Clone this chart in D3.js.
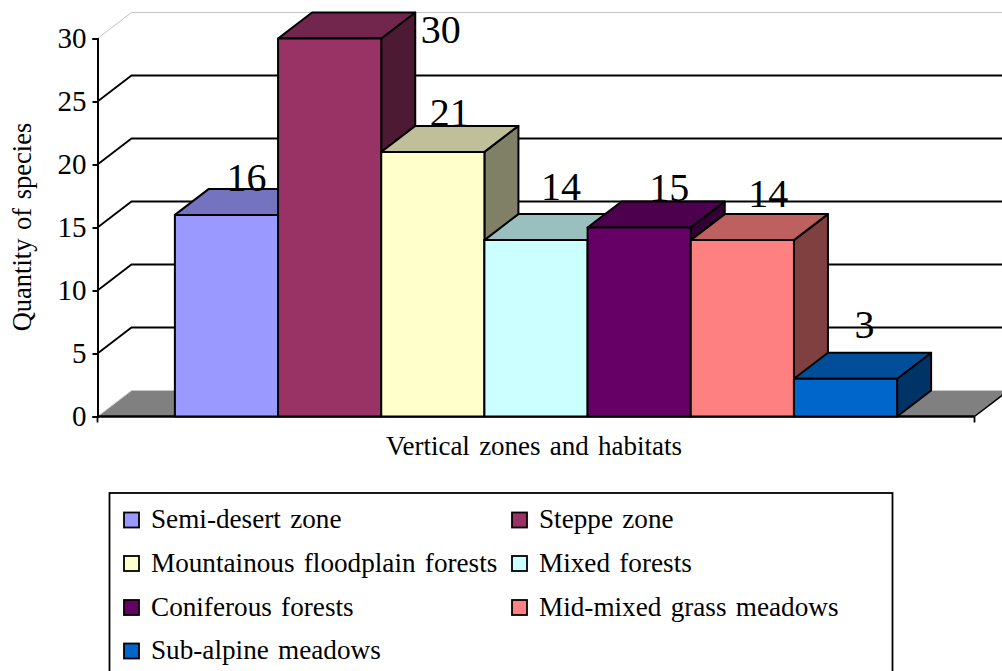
<!DOCTYPE html>
<html><head><meta charset="utf-8">
<script src="https://cdn.jsdelivr.net/npm/d3@7"></script>
<style>html,body{margin:0;padding:0;background:#fff;overflow:hidden}svg{display:block}text{font-family:"Liberation Serif","Times New Roman",serif;fill:#000}</style>
</head><body><div id="chart"></div>
<script>
const categories=["Semi-desert zone","Steppe zone","Mountainous floodplain forests","Mixed forests","Coniferous forests","Mid-mixed grass meadows","Sub-alpine meadows"];
const speciesCounts=[16,30,21,14,15,14,3];
const barColors=["#9999FF","#993366","#FFFFCC","#CCFFFF","#660066","#FF8080","#0066CC"];
const yTicks=[0,5,10,15,20,25,30];
const yTitle="Quantity of species";
const xTitle="Vertical zones and habitats";

const W=1002,H=671;
const svg=d3.select("#chart").append("svg").attr("width",W).attr("height",H).attr("viewBox",[0,0,W,H]);
const x=d3.scaleBand().domain(categories).range([97.5,974.5]).paddingInner(0).paddingOuter(0.75);
const y=d3.scaleLinear().domain([0,30]).range([416.5,38.5]);
const dx=34,dy=-26;
const shade=(c,k)=>{const r=d3.rgb(c);return d3.rgb(r.r*k,r.g*k,r.b*k).formatHex();};
const poly=pts=>pts.map(p=>p.join(",")).join(" ");
const [x0,x1]=x.range();

// floor
svg.append("polygon").attr("points",poly([[x0,y(0)],[x0+dx,y(0)+dy],[x1+dx,y(0)+dy],[x1,y(0)]])).attr("fill","#808080");
svg.append("line").attr("x1",x0+dx).attr("x2",W).attr("y1",y(0)+dy).attr("y2",y(0)+dy).attr("stroke","#c8c8c8").attr("stroke-width",1);
svg.append("line").attr("x1",x0).attr("y1",y(0)).attr("x2",x0+dx).attr("y2",y(0)+dy).attr("stroke","#d8d8d8").attr("stroke-width",1);
svg.append("line").attr("x1",x1).attr("y1",y(0)).attr("x2",x1+dx).attr("y2",y(0)+dy).attr("stroke","#000").attr("stroke-width",1.5);

// gridlines
const grid=svg.append("g").attr("fill","none");
yTicks.filter(t=>t>0).forEach(t=>{
  const col=t===30?"#c4c4c4":"#000";
  grid.append("polyline").attr("points",poly([[x0,y(t)],[x0+dx,y(t)+dy],[W,y(t)+dy]])).attr("stroke",col).attr("stroke-width",t===30?1:1.8);
});

// axes
const yAxis=d3.axisLeft(y).tickValues(yTicks).tickSize(5).tickPadding(6);
const gy=svg.append("g").attr("transform",`translate(${x0},0)`).call(yAxis);
gy.selectAll("path,line").attr("stroke","#000").attr("stroke-width",2);
gy.selectAll("text").style("font-size","29px").style("font-family",'"Liberation Serif",serif').attr("fill","#000");
svg.append("line").attr("x1",x0).attr("x2",x1).attr("y1",y(0)).attr("y2",y(0)).attr("stroke","#000").attr("stroke-width",2.6);
[x0,x1].forEach(v=>svg.append("line").attr("x1",v).attr("x2",v).attr("y1",y(0)).attr("y2",y(0)+6).attr("stroke","#000").attr("stroke-width",1.8));

// bars, painted left to right
const bars=svg.append("g").attr("stroke","#000").attr("stroke-width",2).attr("stroke-linejoin","round");
categories.forEach((c,i)=>{
  const l=x(c),r=l+x.bandwidth(),t=y(speciesCounts[i]),b=y(0),col=barColors[i];
  bars.append("polygon").attr("points",poly([[r,t],[r+dx,t+dy],[r+dx,b+dy],[r,b]])).attr("fill",shade(col,.5));
  bars.append("polygon").attr("points",poly([[l,t],[l+dx,t+dy],[r+dx,t+dy],[r,t]])).attr("fill",shade(col,.75));
  bars.append("rect").attr("x",l).attr("y",t).attr("width",x.bandwidth()).attr("height",b-t).attr("fill",col);
});

// data labels, hand-placed relative to each bar's top as in the reference
const nudgeX=[20,111,17,25,30,26,19],nudgeY=[-24,4,-26,-40,-27,-33,-41];
svg.append("g").selectAll("text").data(categories).join("text")
  .attr("x",(c,i)=>x(c)+x.bandwidth()/2+nudgeX[i])
  .attr("y",(c,i)=>y(speciesCounts[i])+nudgeY[i])
  .attr("text-anchor","middle").style("font-size","40px").text((c,i)=>speciesCounts[i]);

// axis titles
svg.append("text").attr("transform","translate(31,227) rotate(-90)").attr("text-anchor","middle").style("font-size","26.5px").style("word-spacing","2px").text(yTitle);
svg.append("text").attr("x",534).attr("y",455).attr("text-anchor","middle").style("font-size","27px").style("word-spacing","2.5px").text(xTitle);

// legend
svg.append("rect").attr("x",109.5).attr("y",493).attr("width",783).attr("height",190).attr("fill","#fff").attr("stroke","#000").attr("stroke-width",1.8);
const colX=[124,512],rowY=[520,563.5,607.5,651];
const lg=svg.append("g").selectAll("g").data(categories).join("g")
  .attr("transform",(c,i)=>`translate(${colX[i%2]},${rowY[Math.floor(i/2)]})`);
lg.append("rect").attr("x",0).attr("y",-7.5).attr("width",15).attr("height",15).attr("fill",(c,i)=>barColors[i]).attr("stroke","#000").attr("stroke-width",1.8);
lg.append("text").attr("x",27).attr("y",8).style("font-size","27.2px").style("word-spacing","2.5px").text(c=>c);
</script></body></html>
